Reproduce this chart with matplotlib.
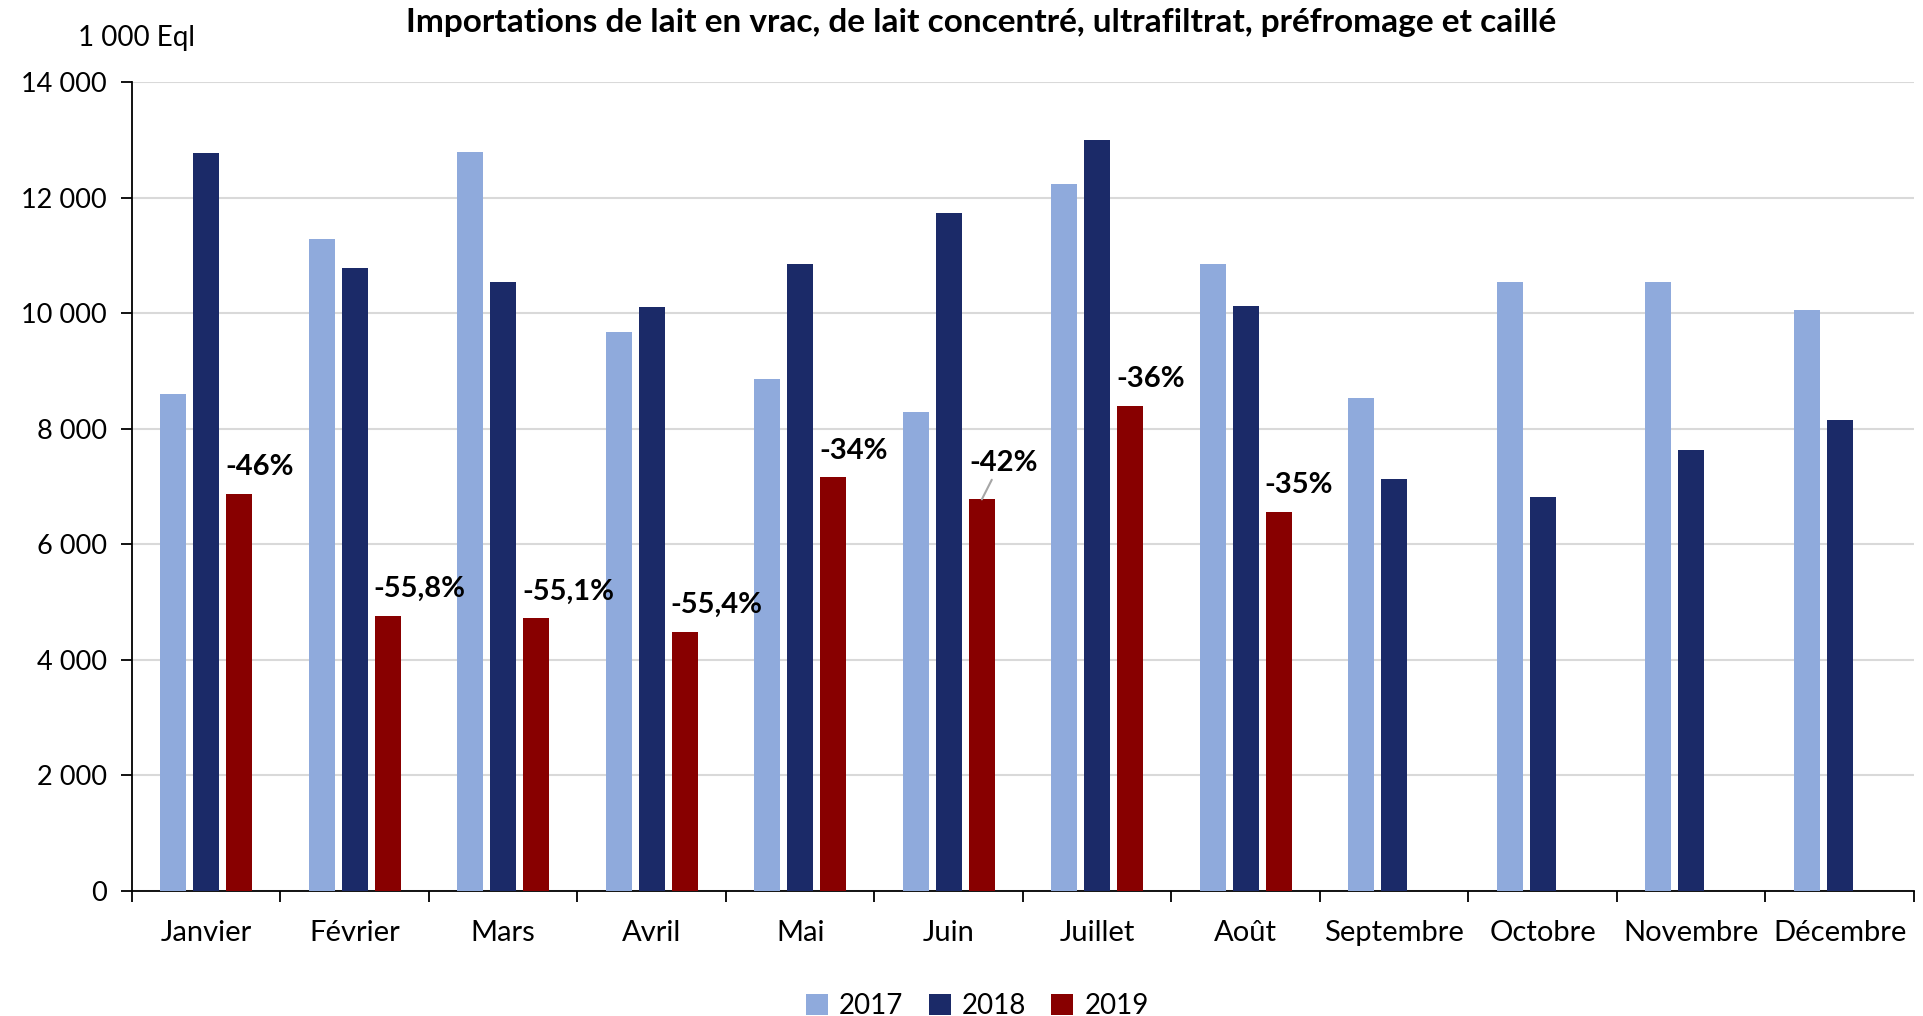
import numpy as np
import matplotlib
matplotlib.use('Agg')
import matplotlib.pyplot as plt
from matplotlib.ticker import FuncFormatter, MultipleLocator

# Données (1 000 équivalent litres)
mois = ['Janvier', 'Février', 'Mars', 'Avril', 'Mai', 'Juin', 'Juillet',
        'Août', 'Septembre', 'Octobre', 'Novembre', 'Décembre']
v2017 = [8600, 11280, 12790, 9670, 8860, 8290, 12240, 10860, 8540, 10540, 10540, 10050]
v2018 = [12770, 10790, 10540, 10110, 10860, 11730, 13000, 10130, 7140, 6820, 7630, 8160]
v2019 = [6880, 4760, 4720, 4480, 7160, 6780, 8390, 6560]
labels_2019 = ['-46%', '-55,8%', '-55,1%', '-55,4%', '-34%', '-42%', '-36%', '-35%']

plt.rcParams['font.family'] = ['Lato', 'DejaVu Sans']

c2017 = '#8faadc'
c2018 = '#1b2a68'
c2019 = '#880000'

fig = plt.figure(figsize=(19.24, 10.16), dpi=100)
ax = fig.add_axes([0.0686, 0.123, 0.9262, 0.796])

x = np.arange(len(mois))
w = 0.175
step = 0.223

ax.bar(x - step, v2017, w, color=c2017, label='2017', zorder=3)
ax.bar(x, v2018, w, color=c2018, label='2018', zorder=3)
x19 = x[:len(v2019)] + step
ax.bar(x19, v2019, w, color=c2019, label='2019', zorder=3)

# étiquettes d'évolution sur les barres 2019
for xi, v, lab in zip(x19, v2019, labels_2019):
    if lab == '-42%':
        ax.annotate(lab, xy=(xi, v), xytext=(16, 17), textcoords='offset points',
                    ha='center', va='bottom', fontsize=21, fontweight='bold',
                    arrowprops=dict(arrowstyle='-', color='#a6a6a6', lw=1.5,
                                    shrinkA=1, shrinkB=0, relpos=(0.35, 0)))
    else:
        ax.annotate(lab, xy=(xi - w / 2, v), xytext=(-1, 10), textcoords='offset points',
                    ha='left', va='bottom', fontsize=21, fontweight='bold')

ax.set_xlim(-0.5, len(mois) - 0.5)
ax.set_ylim(0, 14000)
ax.yaxis.set_major_locator(MultipleLocator(2000))
ax.yaxis.set_major_formatter(FuncFormatter(lambda v, p: f'{int(v):,}'.replace(',', ' ')))
ax.set_xticks(x)
ax.set_xticklabels(mois)
ax.set_xticks(np.arange(-0.5, len(mois), 1), minor=True)
ax.tick_params(axis='x', which='major', length=0, pad=21, labelsize=21)
ax.tick_params(axis='x', which='minor', length=8, width=1.3, direction='out')
ax.tick_params(axis='y', length=8, width=1.3, pad=10, labelsize=19.5)

ax.grid(axis='y', color='#d9d9d9', lw=1.5, zorder=0)
for s in ['top', 'right']:
    ax.spines[s].set_visible(False)
ax.spines['left'].set_linewidth(1.3)
ax.spines['bottom'].set_linewidth(1.3)

fig.text(0.51, 0.978, "Importations de lait en vrac, de lait concentré, ultrafiltrat, préfromage et caillé",
         ha='center', va='center', fontsize=24, fontweight='bold')
fig.text(0.071, 0.963, '1 000 Eql', ha='center', va='center', fontsize=20)

fig.legend(loc='lower center', bbox_to_anchor=(0.508, -0.028), ncol=3, frameon=False,
           fontsize=20, handlelength=0.8, handleheight=0.8, handletextpad=0.4,
           columnspacing=0.9)

fig.savefig('out.png', dpi=100)
